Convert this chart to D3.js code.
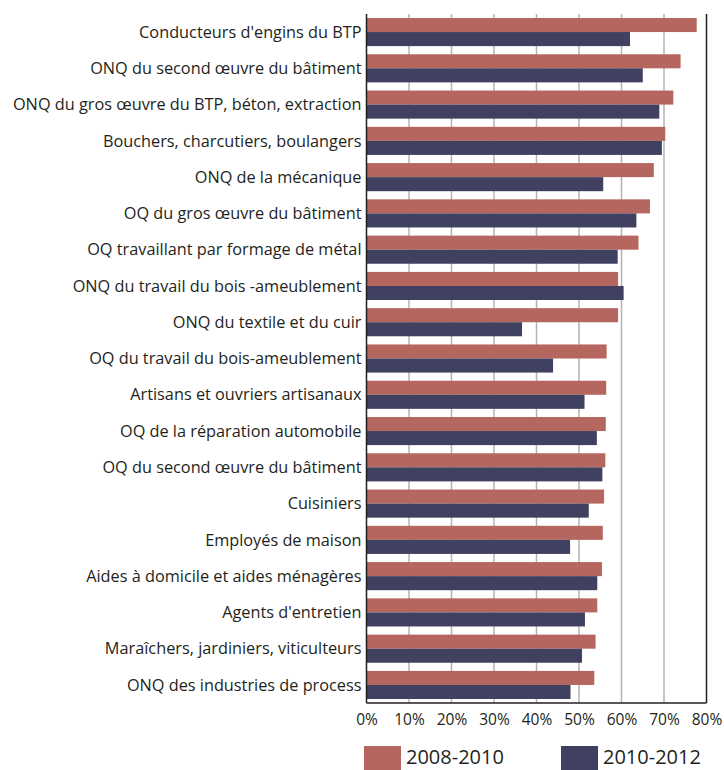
<!DOCTYPE html>
<html>
<head>
<meta charset="utf-8">
<script src="https://cdn.jsdelivr.net/npm/d3@7"></script>
<style>
  html, body { margin: 0; padding: 0; background: #fff; }
  svg { display: block; }
  text { font-family: "Open Sans", "Noto Sans", sans-serif; fill: #231f20; }
</style>
</head>
<body>
<svg id="chart" width="724" height="770"></svg>
<script>
const categories = [
  "Conducteurs d'engins du BTP",
  "ONQ du second œuvre du bâtiment",
  "ONQ du gros œuvre du BTP, béton, extraction",
  "Bouchers, charcutiers, boulangers",
  "ONQ de la mécanique",
  "OQ du gros œuvre du bâtiment",
  "OQ travaillant par formage de métal",
  "ONQ du travail du bois -ameublement",
  "ONQ du textile et du cuir",
  "OQ du travail du bois-ameublement",
  "Artisans et ouvriers artisanaux",
  "OQ de la réparation automobile",
  "OQ du second œuvre du bâtiment",
  "Cuisiniers",
  "Employés de maison",
  "Aides à domicile et aides ménagères",
  "Agents d'entretien",
  "Maraîchers, jardiniers, viticulteurs",
  "ONQ des industries de process"
];
const series2008 = [77.7, 73.9, 72.2, 70.3, 67.6, 66.7, 64.0, 59.2, 59.2, 56.5, 56.4, 56.3, 56.2, 55.9, 55.6, 55.4, 54.3, 53.9, 53.6];
const series2010 = [62.0, 65.0, 68.9, 69.5, 55.7, 63.5, 59.1, 60.5, 36.6, 43.9, 51.3, 54.2, 55.5, 52.3, 47.9, 54.3, 51.4, 50.7, 48.0];
const seriesNames = ["2008-2010", "2010-2012"];
const tickValues = [0, 10, 20, 30, 40, 50, 60, 70, 80];

const colors = ["#b5665f", "#404060"];

const svg = d3.select("#chart");
const m = { left: 366.5, right: 706.5, top: 14, bottom: 703 };

const x = d3.scaleLinear().domain([0, 80]).range([m.left, m.right]);
const y = d3.scaleBand().domain(categories).range([m.top, m.bottom]).paddingInner(0.225).paddingOuter(0.11);
const sub = d3.scaleBand().domain([0, 1]).range([0, y.bandwidth()]);

// vertical gridlines
svg.append("g")
  .selectAll("line")
  .data(tickValues.slice(1, -1))
  .join("line")
  .attr("x1", d => x(d)).attr("x2", d => x(d))
  .attr("y1", m.top).attr("y2", m.bottom)
  .attr("stroke", "#b3b3b3").attr("stroke-width", 1.5);

// bars
const rows = svg.append("g")
  .selectAll("g")
  .data(categories)
  .join("g")
  .attr("transform", d => `translate(0,${y(d)})`);

rows.selectAll("rect")
  .data((d, i) => [series2008[i], series2010[i]])
  .join("rect")
  .attr("x", x(0))
  .attr("y", (d, j) => sub(j))
  .attr("width", d => x(d) - x(0))
  .attr("height", sub.bandwidth())
  .attr("fill", (d, j) => colors[j]);

// frame: left, bottom and right lines
const frame = svg.append("g").attr("stroke", "#231f20").attr("stroke-width", 1.5);
frame.append("line").attr("x1", m.left).attr("x2", m.left).attr("y1", m.top).attr("y2", m.bottom);
frame.append("line").attr("x1", m.right).attr("x2", m.right).attr("y1", m.top).attr("y2", m.bottom);
frame.append("line").attr("x1", m.left).attr("x2", m.right).attr("y1", m.bottom).attr("y2", m.bottom);

// category labels
const yAxis = svg.append("g")
  .attr("transform", `translate(${m.left},0)`)
  .call(d3.axisLeft(y).tickSize(0).tickPadding(5));
yAxis.select(".domain").remove();
yAxis.selectAll("text")
  .attr("dy", "0.35em")
  .style("font-size", "16.3px")
  .attr("fill", "#231f20");

// x axis tick labels
const xAxis = svg.append("g")
  .attr("transform", `translate(0,${m.bottom})`)
  .call(d3.axisBottom(x).tickValues(tickValues).tickFormat(d => d + "%").tickSize(0).tickPadding(11));
xAxis.select(".domain").remove();
xAxis.selectAll("text")
  .style("font-size", "15.5px")
  .attr("fill", "#231f20");

// legend
const legend = svg.append("g")
  .selectAll("g")
  .data(seriesNames)
  .join("g")
  .attr("transform", (d, i) => `translate(${[364, 561][i]},746)`);
legend.append("rect")
  .attr("width", 37).attr("height", 24)
  .attr("fill", (d, i) => colors[i]);
legend.append("text")
  .attr("x", 42).attr("y", 18)
  .style("font-size", "20px")
  .text(d => d);
</script>
</body>
</html>
